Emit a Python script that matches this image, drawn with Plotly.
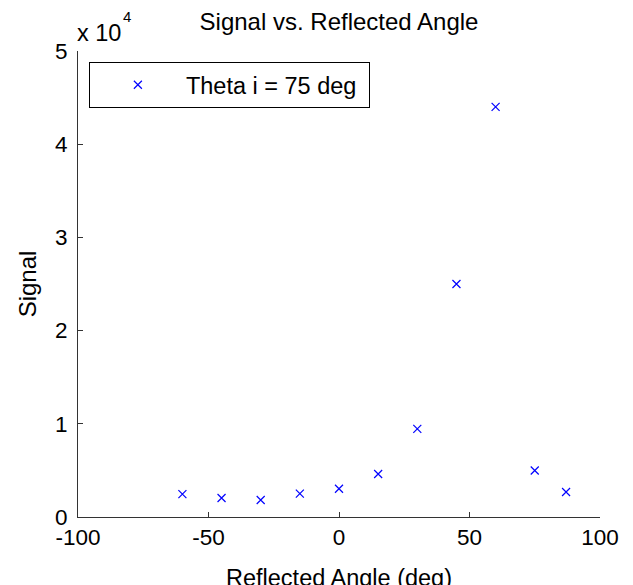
import plotly.graph_objects as go

# Data
angle_deg = [-60, -45, -30, -15, 0, 15, 30, 45, 60, 75, 87]
signal = [2460, 2040, 1820, 2500, 3030, 4610, 9460, 25000, 44000, 4990, 2680]
series_name = "Theta i = 75 deg"

x_ticks = [-100, -50, 0, 50, 100]
x_tick_text = ["-100", "-50", "0", "50", "100"]
y_ticks = [0, 10000, 20000, 30000, 40000, 50000]
y_tick_text = ["0", "1", "2", "3", "4", "5"]

FONT = "Liberation Sans, Arial, sans-serif"
W, H = 633, 585
L, R, T, B = 77.6, 32.6, 50.7, 67.7
PW, PH = W - L - R, H - T - B

fig = go.Figure()
fig.add_trace(go.Scatter(
    x=angle_deg, y=signal, mode="markers", name=series_name + "\u00a0",
    marker=dict(symbol="x-thin", size=8, color="#0000FF",
                line=dict(color="#0000FF", width=1.2)),
    showlegend=True,
))

fig.update_layout(
    width=W, height=H,
    margin=dict(l=L, r=R, t=T, b=B, autoexpand=False),
    paper_bgcolor="white", plot_bgcolor="white",
    font=dict(family=FONT, size=22, color="black"),
    title=dict(text="Signal vs. Reflected Angle", x=339 / W, xanchor="center",
               y=1 - 22 / H, yanchor="middle",
               font=dict(family=FONT, size=24, color="black")),
    showlegend=True,
    legend=dict(x=(88.5 - L) / PW, y=(H - B - 61.7) / PH, xanchor="left", yanchor="top",
                bordercolor="black", borderwidth=1, bgcolor="white",
                font=dict(family=FONT, size=23.5, color="black"),
                itemwidth=86),
)

fig.update_xaxes(range=[-100, 100], tickvals=x_ticks, ticktext=x_tick_text,
                 showgrid=False, zeroline=False, showline=True, linecolor="#333333",
                 linewidth=1, ticks="inside", ticklen=5, tickcolor="#333333",
                 ticklabelstandoff=0, automargin=False,
                 tickfont=dict(family=FONT, size=22.5, color="black"))
fig.update_yaxes(range=[0, 50000], tickvals=y_ticks, ticktext=y_tick_text,
                 showgrid=False, zeroline=False, showline=True, linecolor="#333333",
                 linewidth=1, ticks="inside", ticklen=5, tickcolor="#333333",
                 ticklabelstandoff=5, automargin=False,
                 tickfont=dict(family=FONT, size=22.5, color="black"),
                 title=dict(text="Signal", standoff=11,
                            font=dict(family=FONT, size=24, color="black")))

# x-axis title (sits partly below the page edge, as in the reference)
fig.add_annotation(text="Reflected Angle (deg)", xref="paper", yref="paper",
                   x=0.5, y=(H - B - 578) / PH, xanchor="center", yanchor="middle",
                   showarrow=False, font=dict(family=FONT, size=23.5, color="black"))

fig.add_annotation(text="x 10", xref="paper", yref="paper",
                   x=(75 - L) / PW, y=(H - B - 33) / PH, xanchor="left", yanchor="middle",
                   showarrow=False, font=dict(family=FONT, size=23.5, color="black"))
fig.add_annotation(text="4", xref="paper", yref="paper",
                   x=(120.5 - L) / PW, y=(H - B - 16) / PH, xanchor="left", yanchor="middle",
                   showarrow=False, font=dict(family=FONT, size=15, color="black"))

fig.write_html("out.html", config={"displayModeBar": False},
               post_script="document.body.style.margin='0';document.body.style.overflow='hidden';")
